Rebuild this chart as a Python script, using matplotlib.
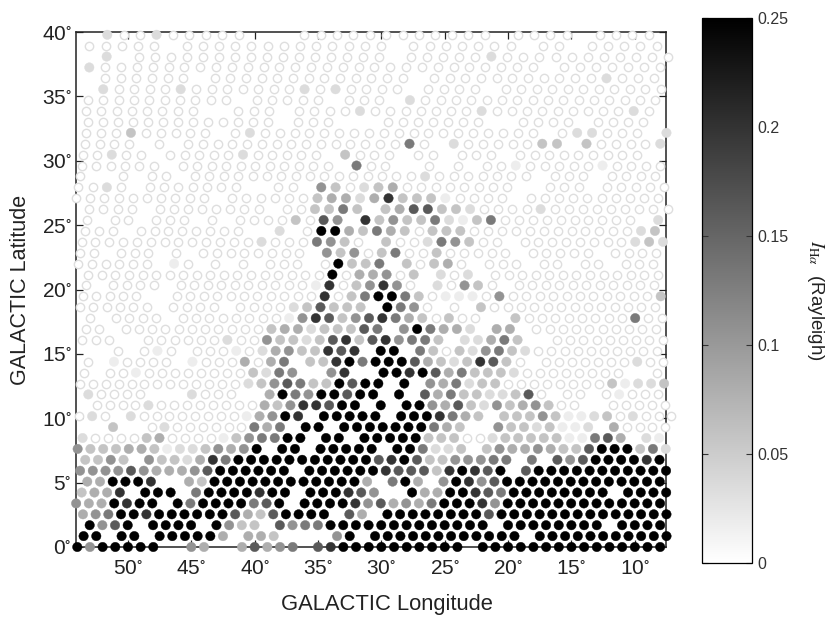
import numpy as np
import matplotlib
matplotlib.use('Agg')
import matplotlib.pyplot as plt

plt.rcParams['font.family'] = ['Liberation Sans', 'DejaVu Sans']
plt.rcParams['mathtext.fontset'] = 'stix'

# Intensity per survey row, one char per pointing from
# the left: ' ' no pointing, 0 open circle, 1-9 grey level (9 = black)
rows = [
    "9599999  54  47456 7899" "99999999 999999999999999",
    "99 99 999994 443    59 " "999999999999 99999999999",
    "9579 9999 9533 7566999" "9999999999 99999999 9999",
    "45699899999974379999 74" " 99999999799999999999999",
    "5449899 969999679 99998" "574546" "999" "85" "9999999999999",
    "3448 999 69999899 99987" "5  94499876" "99999999 9999",
    "449998  43999999999999" "4 694 59857" "9999999999999",
    "5555754445" "7" "999999" " " "99999" "98777389879 7" "99999999999",
    "3353 5332486" "9999999999" "978973355566 6 757999989",
    "53334431223545" "9 99 99999" " 996223 354454337999362",
    "200003400001356699 99 9" "99993330023333311674 21",
    "  3  02000000646 99 999" "9999643  53323112 40000",
    "020 200000000" "14598 9999" "9 9998643 33353112302000",
    " 0000200000000" "43588799 " "9 99" "5473253453" "00  00000",
    "20000   2000  49659979" "9 9 746332237" "0 00 01000",
    "0000000000000" "2357633979" "9 9 546233" "00000000" "31223",
    "0 00" "1" "00000000" "3265  58 " " 99897463332" "00000000" "  0",
    "0 10000 1000404" "6 33896" "99974323873" "0 0000000" "200",
    "   0 010 000102453" "3878" " 99 630325632" "0000000000",
    "000  000000" "200" "533237837" "85663 22463  000000000",
    "00 " "00000000000" "34423337" "6 596442 44 " "0000000000",
    " 0 0000 " "00000000" "1587357" "86430300  3" "00000000" "600",
    "000000 0000 0000" "237333" " 9650 0 3" "0000000000000",
    "00000  " "00000000000" "8036" "9963011105" "00000000000" "3",
    "0 0000 " "0000000000" "18035" "850 20530 " "00000000000",
    "000000000000000000" "904" "4503 202 " "0000000000000",
    "000000 10 0 0 000 0933" "6 30340 000 00 00 000",
    "00 000 0 00000000 5350" "3600300000 00000 0000",
    "0000000000000" "20006530" " 300265300 " "00000000" "232",
    "000 " "00000000" "  2 0" "9943" "6430333" "000000000000" "23",
    "0 00 000 0 0000" "3075 8" "353362136" "0000000000" " 2",
    "0000 00000000 00" "3363 " "3477332" "0000" "2" "000000000",
    "0000000000 000000" "3442" "483331" "0000 " "0000000000",
    "0020 0000000  00 " "5302" "34" "00000000" "  000 00000",
    "0  0 00 " "0000000000000" "000" "2" "0000000 000 0000",
    "000000 " "00000000000" " 6" "00  0 0 00" "1" "00000" "1" "0000",
    "00200 00000" "2" "00000 30" "00 00 000 " "000000000",
    "0000 0 " "0000000000000" "00" "60 2" "00000" "33 3" "0000" "2",
    "000300000 02" "00000000" "00000000000" " 0" "22" "000 2",
    "0000000000000 000   " "0000000  0000 0000",
    "00000000  000 0000" "2" "0000000" "2" "000000000" "2" "0",
    "0000000000 00000 000 2" "0000000000000000",
    "2" "0000" "2" "0000000" "2" "0" "2" "0000 0000 00000000000",
    "000000 00000000000" "00 00000000000" "2" "000",
    "2" "00000000000000000" "00000000000 0000000",
    "2 000000000000000" "0 00000" "2" "00000000000",
    "00000 000000000000" "0 0000000 00 00000",
    "200" "2" "00000   00000" "0000000 0000 0000",
]

# First longitude of each row and the longitude step along it (degrees)
row_lon0 = [54.0, 53.5, 53.02, 53.55, 54.09, 53.65, 53.21, 53.78, 53.37, 53.97,
            53.58, 53.2, 53.84, 53.48, 53.13, 53.82, 53.49, 53.17, 53.89, 53.6,
            53.31, 54.08, 53.8, 53.57, 53.3, 53.13, 53.92, 53.8, 53.66, 53.39,
            53.26, 53.05, 54.1, 53.92, 53.79, 53.66, 53.58, 53.39, 53.29, 53.16,
            53.29, 53.16, 51.95, 51.82, 53.05, 51.68, 53.05, 51.63]
row_dlon = [1.0, 1.0, 1.0004, 1.001, 1.0017, 1.0027, 1.0039, 1.0053, 1.007, 1.0089,
            1.011, 1.0133, 1.0159, 1.0187, 1.0218, 1.0251, 1.0286, 1.0324, 1.0364, 1.0407,
            1.0453, 1.0502, 1.0552, 1.0607, 1.0665, 1.07, 1.08, 1.083, 1.0924, 1.097,
            1.1, 1.113, 1.121, 1.128, 1.135, 1.142, 1.151, 1.164, 1.174, 1.184,
            1.2, 1.21, 1.222, 1.237, 1.25, 1.265, 1.279, 1.295]
row_spacing = 0.8465

# Rayleigh value of each grey level seen in the picture
level_value = [0.0, 0.018, 0.035, 0.058, 0.08, 0.106, 0.13, 0.162, 0.2, 0.25]

lon_ticks = [50, 45, 40, 35, 30, 25, 20, 15, 10]
lat_ticks = [0, 5, 10, 15, 20, 25, 30, 35, 40]
cbar_ticks = [0, 0.05, 0.1, 0.15, 0.2, 0.25]
cbar_labels = ['0', '0.05', '0.1', '0.15', '0.2', '0.25']
vmax = 0.25

lon, lat, level = [], [], []
for r, row in enumerate(rows):
    for i, ch in enumerate(row):
        if ch != ' ':
            lon.append(row_lon0[r] - i * row_dlon[r])
            lat.append(r * row_spacing)
            level.append(int(ch))
lon = np.array(lon)
lat = np.array(lat)
level = np.array(level)
value = np.array(level_value)[level]

W, H = 830, 636
fig = plt.figure(figsize=(W / 100, H / 100), dpi=100)
ax = fig.add_axes([76 / W, 1 - 547 / H, 590 / W, 515 / H])

op = level == 0
ax.scatter(lon[op], lat[op], s=36, facecolors='white', edgecolors='#dedede',
           linewidths=1.0, clip_on=False, zorder=3)
sc = ax.scatter(lon[~op], lat[~op], s=46, c=value[~op], cmap='gray_r', vmin=0, vmax=vmax,
                edgecolors='face', linewidths=0.3, clip_on=False, zorder=4)

ax.set_xlim(54.1, 7.54)
ax.set_ylim(0, 40)
ax.set_xticks(lon_ticks)
ax.set_xticklabels([f'{t}$^{{\\circ}}$' for t in lon_ticks])
ax.set_yticks(lat_ticks)
ax.set_yticklabels([f'{t}$^{{\\circ}}$' for t in lat_ticks])
ax.tick_params(direction='in', top=True, right=True, length=5, width=0.9,
               labelsize=15, colors='#222222', pad=3)
ax.tick_params(axis='x', pad=9)
for s in ax.spines.values():
    s.set_linewidth(1.1)
    s.set_color('#222222')
ax.set_xlabel('GALACTIC Longitude', fontsize=15.8, color='#222222', labelpad=12)
ax.xaxis.set_label_coords((387 - 76) / 590, -47 / 515)
ax.set_ylabel('GALACTIC Latitude', fontsize=15.5, color='#222222', labelpad=8)

cax = fig.add_axes([702 / W, 1 - 563 / H, 50 / W, 545 / H])
cb = fig.colorbar(sc, cax=cax)
cb.set_ticks(cbar_ticks)
cb.set_ticklabels(cbar_labels)
cb.ax.tick_params(direction='in', left=True, right=True, length=4, width=0.8,
                  labelsize=11.5, colors='#333333', pad=4)
cb.outline.set_linewidth(0.9)
fig.text(815 / W, 1 - 300 / H, r'$I_{\mathrm{H}\alpha}$  (Rayleigh)', rotation=-90,
         fontsize=13.5, color='#222222', ha='center', va='center')

fig.savefig('out.png', dpi=100)
plt.close(fig)
